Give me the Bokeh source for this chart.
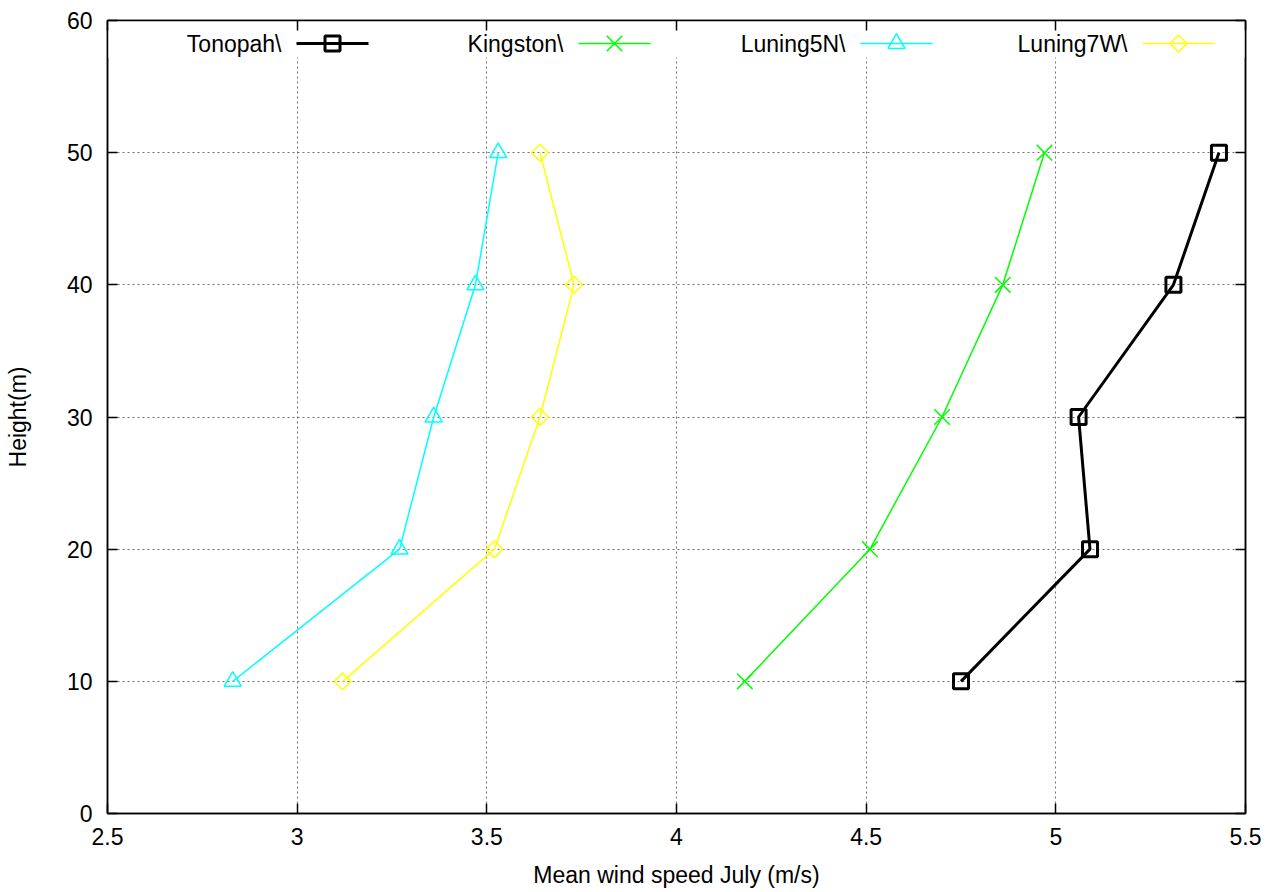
import math
from bokeh.plotting import figure
from bokeh.models import (Range1d, LinearAxis, FixedTicker, NumeralTickFormatter,
                          BoxAnnotation, Label, ColumnDataSource)
from bokeh.embed import file_html
from bokeh.resources import INLINE

# ---------------- data ----------------
heights = [10, 20, 30, 40, 50]
tonopah = [4.75, 5.09, 5.06, 5.31, 5.43]
kingston = [4.18, 4.51, 4.70, 4.86, 4.97]
luning5n = [2.83, 3.27, 3.36, 3.47, 3.53]
luning7w = [3.12, 3.52, 3.64, 3.73, 3.64]
series_names = ["Tonopah\\", "Kingston\\", "Luning5N\\", "Luning7W\\"]
x_ticks = [2.5, 3, 3.5, 4, 4.5, 5, 5.5]
y_ticks = [0, 10, 20, 30, 40, 50, 60]

FONT = "Liberation Sans"
FS = "23px"

W, H = 1277, 892
BL, BR, BT, BB = 107, 32, 20, 79
XMIN, XMAX, YMIN, YMAX = 2.5, 5.5, 0, 60
fw, fh = W - BL - BR, H - BT - BB
TICK = 10

def px2x(px):
    return XMIN + (px - BL) / fw * (XMAX - XMIN)

def py2y(py):
    return YMIN + (BT + fh - py) / fh * (YMAX - YMIN)

p = figure(width=W, height=H, output_backend="svg", toolbar_location=None,
           x_range=Range1d(XMIN, XMAX), y_range=Range1d(YMIN, YMAX),
           min_border_left=BL, min_border_right=BR, min_border_top=BT, min_border_bottom=BB,
           x_axis_label="Mean wind speed July (m/s)", y_axis_label="Height(m)")
p.background_fill_color = "white"
p.border_fill_color = "white"
p.outline_line_color = "black"
p.outline_line_width = 1.5

for ax in (p.xaxis[0], p.yaxis[0]):
    ax.major_tick_in = TICK
    ax.major_tick_out = 0
    ax.minor_tick_in = 0
    ax.minor_tick_out = 0
    ax.axis_line_color = "black"
    ax.axis_line_width = 1.5
    ax.major_tick_line_width = 1.5
    ax.major_label_text_font = FONT
    ax.major_label_text_font_size = FS
    ax.major_label_text_color = "black"
    ax.axis_label_text_font = FONT
    ax.axis_label_text_font_size = FS
    ax.axis_label_text_font_style = "normal"
    ax.axis_label_text_color = "black"

p.xaxis[0].ticker = FixedTicker(ticks=x_ticks)
p.xaxis[0].formatter = NumeralTickFormatter(format="0.[0]")
p.xaxis[0].major_label_standoff = 14
p.xaxis[0].axis_label_standoff = 14
p.yaxis[0].ticker = FixedTicker(ticks=y_ticks)
p.yaxis[0].major_label_standoff = 15
p.yaxis[0].axis_label_standoff = 33

# mirrored inward ticks on top and right
top = LinearAxis(ticker=FixedTicker(ticks=x_ticks), major_tick_in=TICK, major_tick_out=0,
                 minor_tick_in=0, minor_tick_out=0, major_label_text_font_size="0px",
                 major_label_standoff=0, axis_line_width=1.5, major_tick_line_width=1.5)
right = LinearAxis(ticker=FixedTicker(ticks=y_ticks), major_tick_in=TICK, major_tick_out=0,
                   minor_tick_in=0, minor_tick_out=0, major_label_text_font_size="0px",
                   major_label_standoff=0, axis_line_width=1.5, major_tick_line_width=1.5)
p.add_layout(top, "above")
p.add_layout(right, "right")

p.xgrid.ticker = FixedTicker(ticks=x_ticks)
p.ygrid.ticker = FixedTicker(ticks=y_ticks)
for g in (p.xgrid[0], p.ygrid[0]):
    g.grid_line_color = "#707070"
    g.grid_line_dash = "2 3"
    g.grid_line_width = 1

# white band behind key (hides grid)
p.add_layout(BoxAnnotation(bottom=py2y(57), top=YMAX, left=XMIN, right=XMAX,
                           fill_color="white", fill_alpha=1, line_alpha=0, level="underlay"))

styles = [
    dict(data=tonopah, color="black", lw=3, marker="square", size=15, angle=0, mlw=3),
    dict(data=kingston, color="#00ff00", lw=1.5, marker="x", size=22, angle=0, mlw=1.5),
    dict(data=luning5n, color="#00ffff", lw=1.5, marker="triangle", size=17, angle=0, mlw=1.5),
    dict(data=luning7w, color="#ffff00", lw=1.5, marker="square", size=12, angle=math.pi / 4, mlw=1.5),
]

key_y = py2y(43)
for i, (name, st) in enumerate(zip(series_names, styles)):
    src = ColumnDataSource(dict(x=st["data"], y=heights))
    p.line("x", "y", source=src, line_color=st["color"], line_width=st["lw"])
    p.scatter("x", "y", source=src, marker=st["marker"], size=st["size"], angle=st["angle"],
              line_color=st["color"], line_width=st["mlw"], fill_color=None)
    e = 281 + 282 * i
    p.add_layout(Label(x=px2x(e), y=key_y, text=name, text_align="right", text_baseline="middle",
                       text_font=FONT, text_font_size=FS, text_color="black"))
    p.segment(x0=[px2x(e + 15)], y0=[key_y], x1=[px2x(e + 87)], y1=[key_y],
              line_color=st["color"], line_width=st["lw"])
    p.scatter(x=[px2x(e + 51)], y=[key_y], marker=st["marker"], size=st["size"], angle=st["angle"],
              line_color=st["color"], line_width=st["mlw"], fill_color=None)

open("out.html", "w").write(file_html(p, INLINE))
